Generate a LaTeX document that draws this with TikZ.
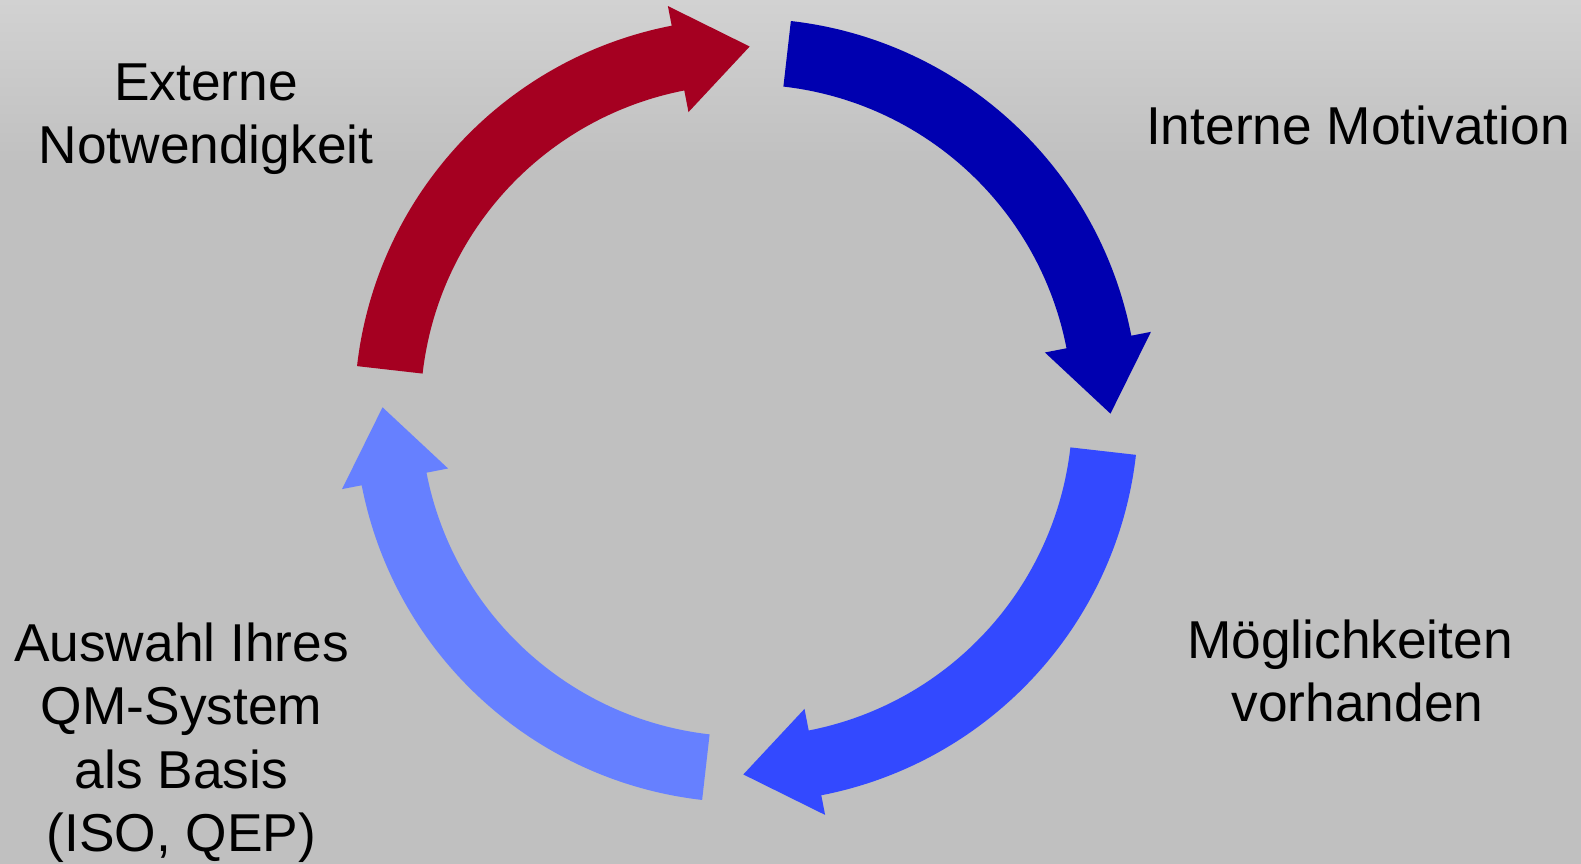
\documentclass[tikz,border=0pt]{standalone}
\usepackage{fontspec}
\setmainfont{Liberation Sans}
\definecolor{bgc}{HTML}{C0C0C0}
\definecolor{bgtop}{HTML}{D2D2D2}
\definecolor{cred}{HTML}{A50021}
\definecolor{cdark}{HTML}{0000B0}
\definecolor{cmed}{HTML}{3349FF}
\definecolor{clight}{HTML}{6680FF}
\tikzset{
  lbl/.style={font=\fontsize{15.17pt}{18.07pt}\selectfont, align=center, inner sep=0pt, anchor=base, text=black},
}
% #1 = tail angle
\newcommand{\cyclearrow}[2]{%
  \pgfmathsetmacro{\ta}{#1}%
  \pgfmathsetmacro{\tb}{#1-72.5}%
  \pgfmathsetmacro{\tt}{#1-84}%
  \fill[#2] ([shift={(\ta:3.92)}]C) arc[start angle=\ta, end angle=\tb, radius=3.92]
     -- ([shift={(\tb:4.12)}]C) -- ([shift={(\tt:3.64)}]C) -- ([shift={(\tb:3.04)}]C)
     -- ([shift={(\tb:3.26)}]C) arc[start angle=\tb, end angle=\ta, radius=3.26] -- cycle;%
}
\begin{document}
\begin{tikzpicture}
\useasboundingbox (0,0) rectangle (15.81,8.64);
\fill[bgc] (0,0) rectangle (15.81,8.64);
\shade[top color=bgtop, bottom color=bgc] (0,7.0) rectangle (15.81,8.64);
\coordinate (C) at (7.465,4.535);
\cyclearrow{173.5}{cred}
\cyclearrow{83.5}{cdark}
\cyclearrow{-6.5}{cmed}
\cyclearrow{-96.5}{clight}
\node[lbl] (ext) at (2.06,7.00) {Externe\\Notwendigkeit};
\node[lbl] (int) at (13.58,7.19) {Interne Motivation};
\node[lbl] (moeg) at (13.50,1.42) {Möglichkeiten\\\hspace*{0.278em}vorhanden};
\node[lbl] (ausw) at (1.815,0.12) {Auswahl Ihres\\QM-System\\als Basis\\(ISO, QEP)};
\end{tikzpicture}
\end{document}
